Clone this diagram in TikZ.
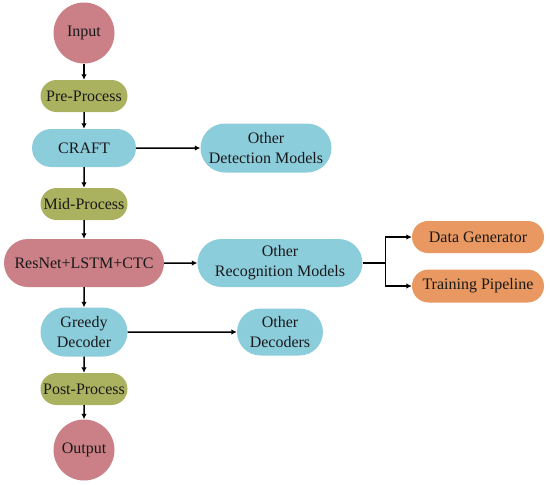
\documentclass[tikz,border=0pt]{standalone}
\usepackage{fontspec}
\setmainfont{Liberation Serif}
\usetikzlibrary{shapes.misc,shapes.geometric,arrows.meta}
\definecolor{cpink}{HTML}{CA8086}
\definecolor{cgreen}{HTML}{AAB25F}
\definecolor{cblue}{HTML}{8CCDDC}
\definecolor{corange}{HTML}{E89860}
\begin{document}
\begin{tikzpicture}[x=1pt,y=-1pt,
  every node/.style={font=\fontsize{16}{20}\selectfont, align=center, inner sep=0pt, text=black!90},
  pill/.style={rounded rectangle, draw=none},
  circ/.style={circle, draw=none, fill=cpink, minimum size=61pt},
  greenbox/.style={pill, fill=cgreen, minimum height=32pt},
  bluebox/.style={pill, fill=cblue},
  pinkbox/.style={pill, fill=cpink},
  orangebox/.style={pill, fill=corange, minimum width=132pt, minimum height=32pt},
  arr/.style={line width=1.5pt, -{Latex[length=5.5pt,width=5.5pt]}},
  ln/.style={line width=1.5pt}]
\useasboundingbox (0,0) rectangle (550,485);
\node[circ] (in) at (84,33) {Input};
\node[greenbox, minimum width=87pt] (pre) at (84,96) {Pre-Process};
\node[bluebox, minimum width=104pt, minimum height=38pt] (craft) at (84,148) {CRAFT};
\node[greenbox, minimum width=87pt] (mid) at (84,204) {Mid-Process};
\node[pinkbox, minimum width=160pt, minimum height=48pt] (res) at (84,263) {ResNet+LSTM+CTC};
\node[bluebox, minimum width=87pt, minimum height=49pt] (greedy) at (84,332) {Greedy\\Decoder};
\node[greenbox, minimum width=87pt] (post) at (84,389) {Post-Process};
\node[circ] (out) at (84,450) {Output};
\node[bluebox, minimum width=131pt, minimum height=49pt] (odm) at (266,148) {Other\\Detection Models};
\node[bluebox, minimum width=165pt, minimum height=48pt] (orm) at (280,263) {Other\\Recognition Models};
\node[bluebox, minimum width=86pt, minimum height=47pt] (odec) at (280,332) {Other\\Decoders};
\node[orangebox] (dg) at (478,237) {Data Generator};
\node[orangebox, minimum height=33pt] (tp) at (478,286) {Training Pipeline};
\draw[arr] (in) -- (pre);
\draw[arr] (pre) -- (craft);
\draw[arr] (craft) -- (mid);
\draw[arr] (mid) -- (res);
\draw[arr] (res) -- (greedy);
\draw[arr] (greedy) -- (post);
\draw[arr] (post) -- (out);
\draw[arr] (craft) -- (odm);
\draw[arr] (res) -- (orm);
\draw[arr] (greedy) -- (odec);
\draw[ln] (orm.east) -- ++(23,0) coordinate (br);
\draw[arr] (br) |- (dg.west);
\draw[arr] (br) |- (tp.west);
\end{tikzpicture}
\end{document}
